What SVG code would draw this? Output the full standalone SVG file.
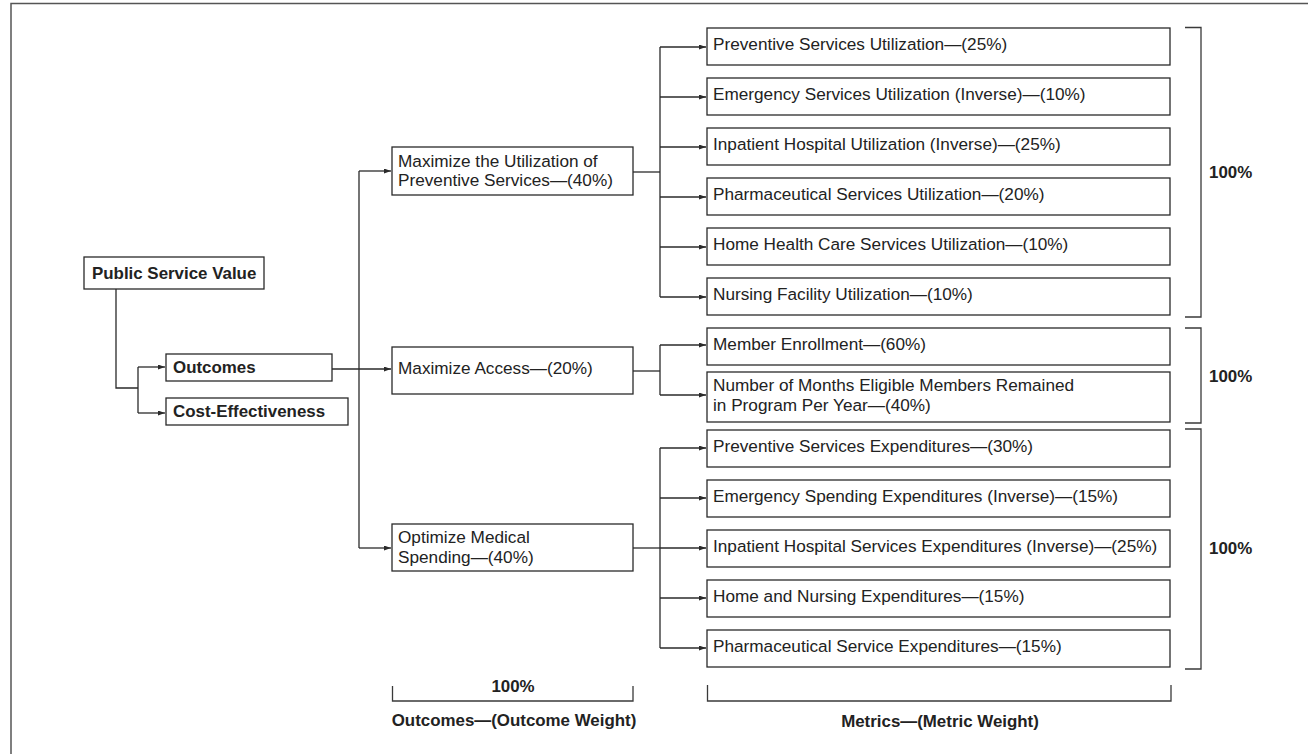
<svg xmlns="http://www.w3.org/2000/svg" width="1308" height="754" viewBox="0 0 1308 754">
  <style>
    .box { fill: #ffffff; stroke: #2a2a2a; stroke-width: 1.3; }
    .ln { fill: none; stroke: #2a2a2a; stroke-width: 1.3; }
    .br { fill: none; stroke: #3a3a3a; stroke-width: 1.3; }
    .t { font-family: "Liberation Sans", Arial, sans-serif; font-size: 17.2px; fill: #222222; }
    .b { font-family: "Liberation Sans", Arial, sans-serif; font-size: 16.9px; font-weight: bold; fill: #222222; }
  </style>
  <defs>
    <marker id="arr" markerUnits="userSpaceOnUse" markerWidth="8" markerHeight="6" refX="7" refY="2.5" orient="auto">
      <path d="M0,0 L7,2.5 L0,5 z" fill="#2a2a2a"/>
    </marker>
  </defs>

  <rect width="1308" height="754" fill="#ffffff"/>
  <!-- page frame -->
  <rect x="11" y="3.5" width="1400" height="800" fill="none" stroke="#555555" stroke-width="1.5"/>

  <!-- connectors -->
  <g id="connectors">
    <path class="ln" d="M116,289 V388 H138"/>
    <path class="ln" d="M138,367 V413"/>
    <path class="ln" d="M138,367 H165" marker-end="url(#arr)"/>
    <path class="ln" d="M138,413 H165" marker-end="url(#arr)"/>

    <path class="ln" d="M332,369 H391" marker-end="url(#arr)"/>
    <path class="ln" d="M359,171 V548"/>
    <path class="ln" d="M359,171 H391" marker-end="url(#arr)"/>
    <path class="ln" d="M359,548 H391" marker-end="url(#arr)"/>

    <path class="ln" d="M633,172 H660"/>
    <path class="ln" d="M660,47 V297"/>
    <path class="ln" d="M660,47 H706" marker-end="url(#arr)"/>
    <path class="ln" d="M660,97 H706" marker-end="url(#arr)"/>
    <path class="ln" d="M660,147 H706" marker-end="url(#arr)"/>
    <path class="ln" d="M660,197 H706" marker-end="url(#arr)"/>
    <path class="ln" d="M660,247 H706" marker-end="url(#arr)"/>
    <path class="ln" d="M660,297 H706" marker-end="url(#arr)"/>

    <path class="ln" d="M633,371 H660"/>
    <path class="ln" d="M660,345 V395"/>
    <path class="ln" d="M660,345 H706" marker-end="url(#arr)"/>
    <path class="ln" d="M660,395 H706" marker-end="url(#arr)"/>

    <path class="ln" d="M633,548 H660"/>
    <path class="ln" d="M660,448 V648"/>
    <path class="ln" d="M660,448 H706" marker-end="url(#arr)"/>
    <path class="ln" d="M660,498 H706" marker-end="url(#arr)"/>
    <path class="ln" d="M660,548 H706" marker-end="url(#arr)"/>
    <path class="ln" d="M660,598 H706" marker-end="url(#arr)"/>
    <path class="ln" d="M660,648 H706" marker-end="url(#arr)"/>
  </g>

  <!-- root and dimensions -->
  <g id="public-service-value">
    <rect class="box" x="84" y="257" width="180" height="32"/>
    <text class="b" x="92" y="279">Public Service Value</text>
  </g>
  <g id="outcomes">
    <rect class="box" x="166" y="354" width="166" height="27"/>
    <text class="b" x="173" y="373">Outcomes</text>
  </g>
  <g id="cost-effectiveness">
    <rect class="box" x="166" y="398" width="182" height="27"/>
    <text class="b" x="173" y="417">Cost-Effectiveness</text>
  </g>

  <!-- outcomes -->
  <g id="outcome-preventive">
    <rect class="box" x="392" y="147" width="241" height="48"/>
    <text class="t" x="398" y="167">Maximize the Utilization of</text>
    <text class="t" x="398" y="186">Preventive Services—(40%)</text>
  </g>
  <g id="outcome-access">
    <rect class="box" x="392" y="347" width="241" height="47"/>
    <text class="t" x="398" y="374">Maximize Access—(20%)</text>
  </g>
  <g id="outcome-spending">
    <rect class="box" x="392" y="524" width="241" height="47"/>
    <text class="t" x="398" y="543">Optimize Medical</text>
    <text class="t" x="398" y="563">Spending—(40%)</text>
  </g>

  <!-- utilization metrics -->
  <g id="m-preventive-util">
    <rect class="box" x="707" y="28" width="463" height="37"/>
    <text class="t" x="713" y="50">Preventive Services Utilization—(25%)</text>
  </g>
  <g id="m-emergency-util">
    <rect class="box" x="707" y="78" width="463" height="37"/>
    <text class="t" x="713" y="100">Emergency Services Utilization (Inverse)—(10%)</text>
  </g>
  <g id="m-inpatient-util">
    <rect class="box" x="707" y="128" width="463" height="37"/>
    <text class="t" x="713" y="150">Inpatient Hospital Utilization (Inverse)—(25%)</text>
  </g>
  <g id="m-pharma-util">
    <rect class="box" x="707" y="178" width="463" height="37"/>
    <text class="t" x="713" y="200">Pharmaceutical Services Utilization—(20%)</text>
  </g>
  <g id="m-home-health-util">
    <rect class="box" x="707" y="228" width="463" height="37"/>
    <text class="t" x="713" y="250">Home Health Care Services Utilization—(10%)</text>
  </g>
  <g id="m-nursing-util">
    <rect class="box" x="707" y="278" width="463" height="37"/>
    <text class="t" x="713" y="300">Nursing Facility Utilization—(10%)</text>
  </g>

  <!-- access metrics -->
  <g id="m-enrollment">
    <rect class="box" x="707" y="328" width="463" height="37"/>
    <text class="t" x="713" y="350">Member Enrollment—(60%)</text>
  </g>
  <g id="m-months-eligible">
    <rect class="box" x="707" y="372" width="463" height="50"/>
    <text class="t" x="713" y="391">Number of Months Eligible Members Remained</text>
    <text class="t" x="713" y="411">in Program Per Year—(40%)</text>
  </g>

  <!-- spending metrics -->
  <g id="m-preventive-exp">
    <rect class="box" x="707" y="430" width="463" height="37"/>
    <text class="t" x="713" y="452">Preventive Services Expenditures—(30%)</text>
  </g>
  <g id="m-emergency-exp">
    <rect class="box" x="707" y="480" width="463" height="37"/>
    <text class="t" x="713" y="502">Emergency Spending Expenditures (Inverse)—(15%)</text>
  </g>
  <g id="m-inpatient-exp">
    <rect class="box" x="707" y="530" width="463" height="37"/>
    <text class="t" x="713" y="552">Inpatient Hospital Services Expenditures (Inverse)—(25%)</text>
  </g>
  <g id="m-home-nursing-exp">
    <rect class="box" x="707" y="580" width="463" height="37"/>
    <text class="t" x="713" y="602">Home and Nursing Expenditures—(15%)</text>
  </g>
  <g id="m-pharma-exp">
    <rect class="box" x="707" y="630" width="463" height="37"/>
    <text class="t" x="713" y="652">Pharmaceutical Service Expenditures—(15%)</text>
  </g>

  <!-- weight brackets -->
  <g id="weight-brackets">
    <path class="br" d="M1185,27.5 H1201 V317 H1185"/>
    <text class="b" x="1209" y="178">100%</text>
    <path class="br" d="M1185,328 H1201 V423 H1185"/>
    <text class="b" x="1209" y="382">100%</text>
    <path class="br" d="M1185,429 H1201 V669 H1185"/>
    <text class="b" x="1209" y="554">100%</text>

    <path class="br" d="M392.5,686 V701 H633 V686"/>
    <text class="b" x="513" y="692" text-anchor="middle">100%</text>
    <text class="b" x="514" y="726" text-anchor="middle">Outcomes—(Outcome Weight)</text>

    <path class="br" d="M707.5,685 V701 H1171 V685"/>
    <text class="b" x="940" y="727" text-anchor="middle">Metrics—(Metric Weight)</text>
  </g>
</svg>
